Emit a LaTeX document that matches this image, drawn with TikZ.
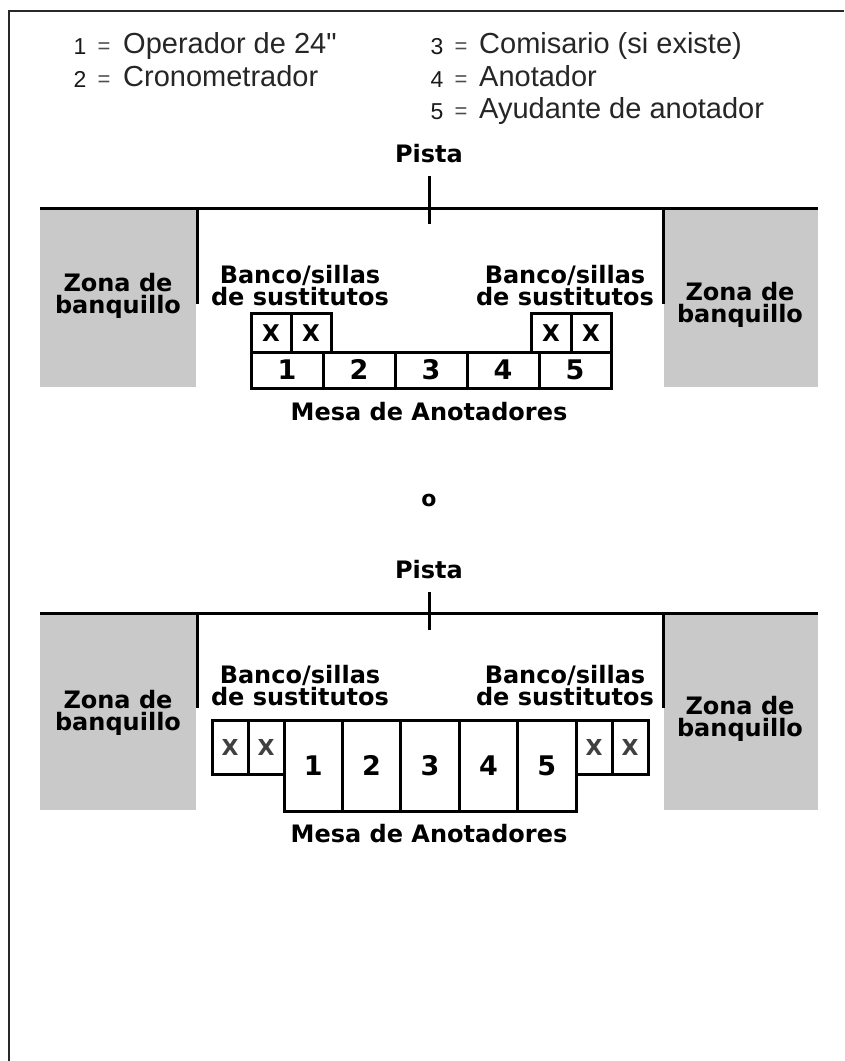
\documentclass[tikz,border=0pt]{standalone}
\usepackage{fontspec}
\newfontfamily\djf{DejaVu Sans}
\newfontfamily\lib{Liberation Sans}
\definecolor{zonegray}{RGB}{201,201,201}
\definecolor{framegray}{RGB}{40,40,40}
\begin{document}
\begin{tikzpicture}[x=1pt,y=-1pt,
  bold/.style={font=\djf\bfseries\fontsize{24}{26}\selectfont, inner sep=0pt, anchor=base},
  leg/.style={font=\lib\fontsize{29}{30}\selectfont, inner sep=0pt, anchor=base west, text=black!85},
  legnum/.style={font=\lib\fontsize{23}{24}\selectfont, inner sep=0pt, anchor=base, text=black!90},
  legeq/.style={font=\lib\fontsize{22}{22}\selectfont, inner sep=0pt, anchor=base, text=black!70},
  zone/.style={fill=zonegray, draw=none},
  wall/.style={line width=3pt, draw=black},
  tick/.style={line width=3pt, draw=black},
  cell/.style={draw=black, line width=3pt, inner sep=0pt, text height=19pt, text depth=0pt, font=\djf\bfseries\fontsize{27}{28}\selectfont},
  xcell/.style={draw=black, line width=3pt, inner sep=0pt, text height=17pt, text depth=0pt, font=\djf\bfseries\fontsize{23}{24}\selectfont},
  xcellb/.style={draw=black, line width=3pt, inner sep=0pt, text height=16pt, text depth=0pt, font=\djf\bfseries\fontsize{22}{24}\selectfont, text=black!75}
]
\useasboundingbox (0,0) rectangle (844,1061);
\fill[white] (0,0) rectangle (844,1061);
% frame
\coordinate (fbl) at (9,1061);
\coordinate (ftl) at (9,11);
\coordinate (ftr) at (844,11);
\draw[line width=2.5pt, framegray] (fbl) -- (ftl) -- (ftr);

% legend
\node[legnum] (n1) at (80,54) {1};
\node[legeq]  (e1) at (104,53) {=};
\node[leg]    (t1) at (123,53) {Operador de 24"};
\node[legnum] (n2) at (80,87) {2};
\node[legeq]  (e2) at (104,86) {=};
\node[leg]    (t2) at (123,86) {Cronometrador};
\node[legnum] (n3) at (437,54) {3};
\node[legeq]  (e3) at (461,53) {=};
\node[leg]    (t3) at (479,53) {Comisario (si existe)};
\node[legnum] (n4) at (437,87) {4};
\node[legeq]  (e4) at (461,86) {=};
\node[leg]    (t4) at (479,86) {Anotador};
\node[legnum] (n5) at (437,119) {5};
\node[legeq]  (e5) at (461,118) {=};
\node[leg]    (t5) at (479,118) {Ayudante de anotador};

% ===== top diagram =====
\fill[zone] (40,208) rectangle (196,387);
\fill[zone] (664,208) rectangle (818,387);
\coordinate (aL) at (40,208);
\coordinate (aR) at (818,208);
\coordinate (aVL) at (197,304);
\coordinate (aVLt) at (197,208);
\coordinate (aVR) at (663,304);
\coordinate (aVRt) at (663,208);
\coordinate (aT1) at (429,176);
\coordinate (aT2) at (429,224);
\draw[wall] (aL) -- (aR);
\draw[wall] (aVLt) -- (aVL);
\draw[wall] (aVRt) -- (aVR);
\draw[tick] (aT1) -- (aT2);
\node[bold] (aP) at (429,162) {Pista};
\node[bold] (aZL1) at (118,291) {Zona de};
\node[bold] (aZL2) at (118,313) {banquillo};
\node[bold] (aZR1) at (740,300) {Zona de};
\node[bold] (aZR2) at (740,322) {banquillo};
\node[bold] (aBL1) at (300,283) {Banco/sillas};
\node[bold] (aBL2) at (300,305) {de sustitutos};
\node[bold] (aBR1) at (565,283) {Banco/sillas};
\node[bold] (aBR2) at (565,305) {de sustitutos};
% table
\node[xcell, minimum width=40pt, minimum height=39pt] (aX1) at (271,332.5) {X};
\node[xcell, minimum width=40pt, minimum height=39pt] (aX2) at (311,332.5) {X};
\node[xcell, minimum width=40pt, minimum height=39pt] (aX3) at (551,332.5) {X};
\node[xcell, minimum width=40pt, minimum height=39pt] (aX4) at (591,332.5) {X};
\node[cell, minimum width=72pt, minimum height=36pt] (aC1) at (287,370) {1};
\node[cell, minimum width=72pt, minimum height=36pt] (aC2) at (359,370) {2};
\node[cell, minimum width=72pt, minimum height=36pt] (aC3) at (431,370) {3};
\node[cell, minimum width=72pt, minimum height=36pt] (aC4) at (503,370) {4};
\node[cell, minimum width=72pt, minimum height=36pt] (aC5) at (575,370) {5};
\node[bold] (aM) at (429,420) {Mesa de Anotadores};

\node[font=\djf\bfseries\fontsize{22}{22}\selectfont, inner sep=0pt, anchor=base] (or) at (429,506) {o};

% ===== bottom diagram =====
\fill[zone] (40,613) rectangle (196,810);
\fill[zone] (664,613) rectangle (818,810);
\coordinate (bL) at (40,613);
\coordinate (bR) at (818,613);
\coordinate (bVL) at (197,708);
\coordinate (bVLt) at (197,613);
\coordinate (bVR) at (663,708);
\coordinate (bVRt) at (663,613);
\coordinate (bT1) at (429,592);
\coordinate (bT2) at (429,630);
\draw[wall] (bL) -- (bR);
\draw[wall] (bVLt) -- (bVL);
\draw[wall] (bVRt) -- (bVR);
\draw[tick] (bT1) -- (bT2);
\node[bold] (bP) at (429,578) {Pista};
\node[bold] (bZL1) at (118,708) {Zona de};
\node[bold] (bZL2) at (118,730) {banquillo};
\node[bold] (bZR1) at (740,714) {Zona de};
\node[bold] (bZR2) at (740,736) {banquillo};
\node[bold] (bBL1) at (300,683) {Banco/sillas};
\node[bold] (bBL2) at (300,705) {de sustitutos};
\node[bold] (bBR1) at (565,683) {Banco/sillas};
\node[bold] (bBR2) at (565,705) {de sustitutos};
% table
\node[xcellb, minimum width=36pt, minimum height=54pt] (bX1) at (230,747) {X};
\node[xcellb, minimum width=36pt, minimum height=54pt] (bX2) at (266,747) {X};
\node[xcellb, minimum width=36pt, minimum height=54pt] (bX3) at (594,747) {X};
\node[xcellb, minimum width=36pt, minimum height=54pt] (bX4) at (630,747) {X};
\node[cell, minimum width=58.4pt, minimum height=91pt] (bC1) at (313.2,765.5) {1};
\node[cell, minimum width=58.4pt, minimum height=91pt] (bC2) at (371.6,765.5) {2};
\node[cell, minimum width=58.4pt, minimum height=91pt] (bC3) at (430,765.5) {3};
\node[cell, minimum width=58.4pt, minimum height=91pt] (bC4) at (488.4,765.5) {4};
\node[cell, minimum width=58.4pt, minimum height=91pt] (bC5) at (546.8,765.5) {5};
\node[bold] (bM) at (429,842) {Mesa de Anotadores};
\end{tikzpicture}
\end{document}
